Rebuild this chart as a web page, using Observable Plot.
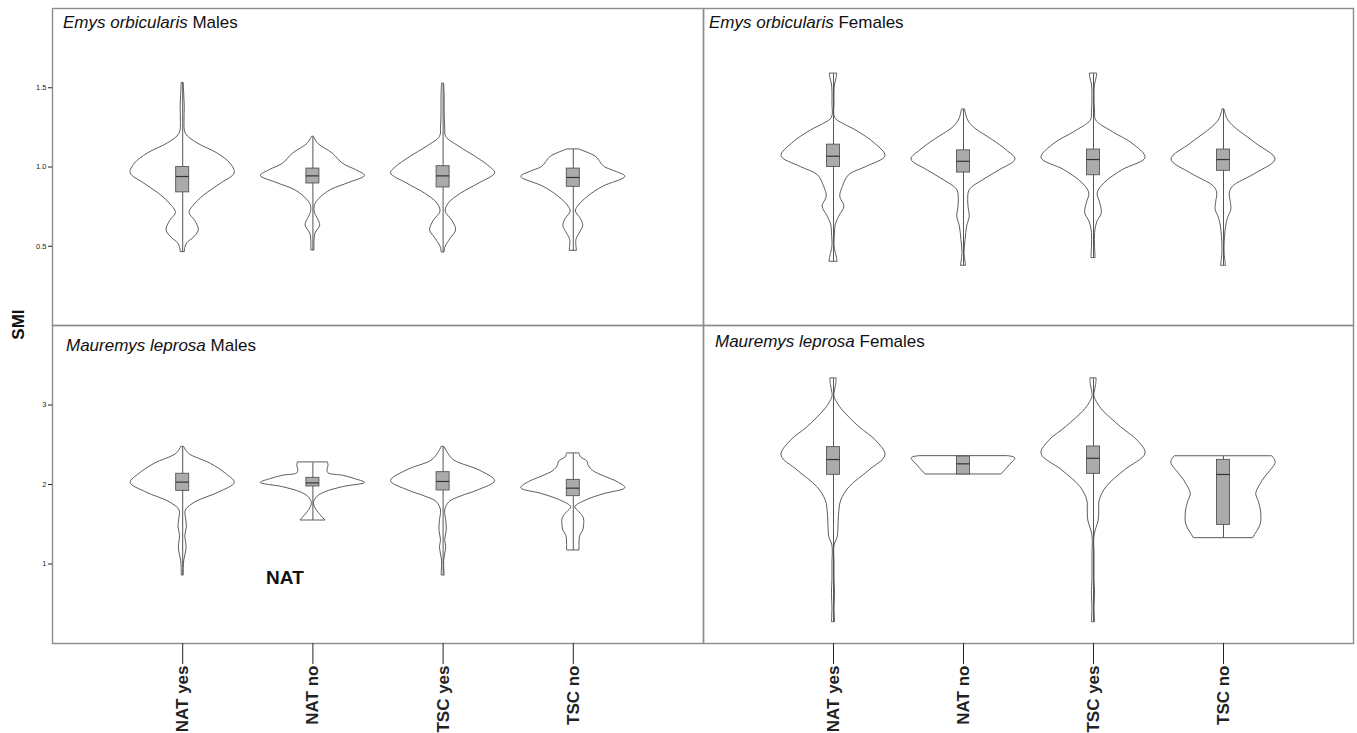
<!DOCTYPE html>
<html><head><meta charset="utf-8">
<script src="https://cdn.jsdelivr.net/npm/d3@7"></script>
<script src="https://cdn.jsdelivr.net/npm/@observablehq/plot@0.6"></script>
<style>
body{margin:0;background:#fff;}
#chart{position:relative;width:1357px;height:733px;font-family:"Liberation Sans",Arial,sans-serif;overflow:hidden;}
.ttl{position:absolute;font-size:17px;line-height:17px;white-space:nowrap;color:#111;}
.smi{position:absolute;font-size:17px;font-weight:bold;line-height:17px;color:#111;transform:rotate(-90deg);transform-origin:center center;}
</style></head><body><div id="chart"></div>
<script>
// ---- data ----
const groups = ["NAT yes", "NAT no", "TSC yes", "TSC no"];
const titles = [["Emys orbicularis", "Males"], ["Emys orbicularis", "Females"], ["Mauremys leprosa", "Males"], ["Mauremys leprosa", "Females"]];
const yTicksEmys = [0.5, 1.0, 1.5];
const yTicksMauremys = [1, 2, 3];
const yDomainEmys = [0, 2];
const yDomainMauremys = [0, 4];
const yLabel = "SMI";
const annotation = {label: "NAT", group: 1.785, smi: 0.83};

// violin outlines: [SMI value, relative density width (max = 1)]
const emysMalesViolins = [
  [[1.528,0.02],[1.45,0.03],[1.38,0.04],[1.3,0.035],[1.21,0.06],[1.15,0.28],[1.085,0.67],[1.02,0.92],[0.96,1.0],[0.9,0.76],[0.835,0.47],[0.77,0.25],[0.71,0.13],[0.66,0.24],[0.6,0.31],[0.55,0.2],[0.52,0.09],[0.49,0.05],[0.463,0.04]],
  [[1.189,0.02],[1.147,0.1],[1.085,0.38],[1.02,0.58],[0.98,0.83],[0.944,1.0],[0.9,0.7],[0.855,0.35],[0.81,0.16],[0.76,0.04],[0.71,0.04],[0.67,0.1],[0.63,0.14],[0.58,0.05],[0.53,0.03],[0.473,0.03]],
  [[1.524,0.02],[1.45,0.03],[1.35,0.03],[1.25,0.04],[1.19,0.06],[1.13,0.3],[1.063,0.63],[1.0,0.9],[0.96,1.0],[0.897,0.7],[0.833,0.35],[0.77,0.11],[0.718,0.05],[0.66,0.18],[0.6,0.25],[0.55,0.15],[0.52,0.09],[0.49,0.04],[0.461,0.03]],
  [[1.11,0.12],[1.063,0.44],[1.03,0.52],[1.0,0.6],[0.975,0.78],[0.938,1.0],[0.875,0.57],[0.812,0.28],[0.75,0.09],[0.718,0.05],[0.67,0.15],[0.628,0.19],[0.58,0.12],[0.54,0.06],[0.471,0.07]]
];
const emysMalesBoxes = [[0.84,0.94,1.0],[0.896,0.944,0.99],[0.871,0.944,1.005],[0.875,0.934,0.99]];

const emysFemalesViolins = [
  [[1.587,0.07],[1.56,0.06],[1.52,0.03],[1.48,0.02],[1.4,0.02],[1.31,0.03],[1.27,0.2],[1.231,0.43],[1.147,0.8],[1.068,1.0],[1.0,0.63],[0.948,0.3],[0.875,0.18],[0.812,0.13],[0.75,0.21],[0.687,0.11],[0.63,0.04],[0.583,0.03],[0.5,0.02],[0.436,0.06],[0.402,0.08]],
  [[1.361,0.03],[1.3,0.08],[1.252,0.19],[1.168,0.57],[1.105,0.83],[1.047,1.0],[0.98,0.7],[0.917,0.38],[0.854,0.12],[0.79,0.09],[0.74,0.1],[0.687,0.12],[0.624,0.07],[0.54,0.04],[0.457,0.02],[0.377,0.05]],
  [[1.587,0.07],[1.56,0.06],[1.52,0.03],[1.45,0.02],[1.35,0.03],[1.294,0.05],[1.22,0.37],[1.147,0.75],[1.057,1.0],[0.98,0.56],[0.897,0.21],[0.833,0.08],[0.77,0.13],[0.708,0.16],[0.65,0.07],[0.583,0.03],[0.5,0.03],[0.425,0.04]],
  [[1.361,0.02],[1.3,0.08],[1.252,0.21],[1.147,0.63],[1.047,1.0],[0.96,0.63],[0.875,0.18],[0.833,0.12],[0.78,0.14],[0.729,0.15],[0.68,0.09],[0.624,0.05],[0.5,0.02],[0.42,0.03],[0.377,0.05]]
];
const emysFemalesBoxes = [[1.0,1.068,1.141],[0.965,1.036,1.105],[0.948,1.047,1.11],[0.976,1.047,1.11]];

const mauremysMalesViolins = [
  [[2.469,0.03],[2.386,0.12],[2.26,0.54],[2.135,0.83],[2.02,1.0],[1.9,0.7],[1.777,0.25],[1.673,0.06],[1.55,0.07],[1.463,0.08],[1.35,0.05],[1.25,0.07],[1.17,0.07],[1.044,0.03],[0.95,0.02],[0.855,0.02]],
  [[2.273,0.29],[2.23,0.3],[2.18,0.28],[2.14,0.3],[2.11,0.58],[2.07,0.8],[2.02,1.0],[1.967,0.58],[1.9,0.23],[1.84,0.08],[1.77,0.02],[1.7,0.05],[1.62,0.14],[1.547,0.24]],
  [[2.469,0.03],[2.386,0.1],[2.3,0.22],[2.176,0.7],[2.042,1.0],[1.925,0.67],[1.85,0.35],[1.777,0.12],[1.673,0.04],[1.55,0.06],[1.42,0.07],[1.3,0.04],[1.21,0.06],[1.12,0.04],[1.04,0.02],[0.855,0.03]],
  [[2.386,0.12],[2.34,0.15],[2.29,0.27],[2.23,0.3],[2.17,0.38],[2.1,0.6],[2.03,0.85],[1.954,1.0],[1.88,0.6],[1.8,0.25],[1.714,0.04],[1.65,0.12],[1.58,0.2],[1.5,0.21],[1.42,0.19],[1.35,0.13],[1.27,0.12],[1.17,0.12]]
];
const mauremysMalesBoxes = [[1.92,2.03,2.135],[1.975,2.02,2.084],[1.925,2.038,2.155],[1.853,1.954,2.058]];

const mauremysFemalesViolins = [
  [[3.33,0.06],[3.25,0.05],[3.15,0.02],[3.1,0.02],[3.02,0.08],[2.93,0.18],[2.72,0.5],[2.55,0.82],[2.365,1.0],[2.176,0.69],[1.966,0.31],[1.8,0.15],[1.65,0.11],[1.547,0.1],[1.337,0.08],[1.23,0.02],[1.0,0.02],[0.8,0.02],[0.625,0.03],[0.45,0.02],[0.268,0.03]],
  [[2.356,0.86],[2.342,0.97],[2.325,1.0],[2.305,0.98],[2.25,0.9],[2.19,0.82],[2.126,0.73]],
  [[3.33,0.06],[3.25,0.05],[3.15,0.02],[3.1,0.02],[3.02,0.08],[2.93,0.18],[2.72,0.53],[2.55,0.85],[2.386,1.0],[2.176,0.6],[1.966,0.25],[1.8,0.12],[1.65,0.11],[1.547,0.1],[1.358,0.02],[1.1,0.02],[0.8,0.02],[0.63,0.03],[0.45,0.02],[0.268,0.03]],
  [[2.352,0.94],[2.31,0.99],[2.26,1.0],[2.17,0.9],[2.09,0.8],[1.99,0.7],[1.88,0.63],[1.78,0.68],[1.673,0.72],[1.505,0.72],[1.42,0.66],[1.38,0.62],[1.325,0.57]]
];
const mauremysFemalesBoxes = [[2.122,2.314,2.47],[2.126,2.26,2.352],[2.134,2.33,2.478],[1.492,2.126,2.31]];

// ---- drawing ----
const HALF = 0.4;   // max violin half-width in x units
const BOXW = 0.05;  // box half-width in x units
const FONT = "'Liberation Sans', Arial, sans-serif";
const chart = document.getElementById("chart");

function panel(o) {
  const vData = o.violins.flatMap((pts, i) => pts.map(([v, w]) => ({g: i + 1, v, w})));
  const bData = o.boxes.map(([q1, med, q3], i) => ({
    g: i + 1, q1, med, q3,
    lo: d3.min(o.violins[i], p => p[0]), hi: d3.max(o.violins[i], p => p[0])
  }));
  const marks = [
    Plot.frame({stroke: "#8c8c8c", strokeWidth: 1.4}),
    Plot.areaX(vData, {y: "v", x1: d => d.g - d.w * HALF, x2: d => d.g + d.w * HALF, z: "g",
      curve: "catmull-rom", fill: "white", stroke: "#4a4a4a", strokeWidth: 0.9}),
    Plot.ruleX(bData, {x: "g", y1: "lo", y2: "hi", stroke: "#555", strokeWidth: 1}),
    Plot.rect(bData, {x1: d => d.g - BOXW, x2: d => d.g + BOXW, y1: "q1", y2: "q3",
      fill: "#ababab", stroke: "#555", strokeWidth: 0.9}),
    Plot.ruleY(bData, {y: "med", x1: d => d.g - BOXW, x2: d => d.g + BOXW, stroke: "#333", strokeWidth: 1.2})
  ];
  if (o.yTicks) marks.push(Plot.axisY({ticks: o.yTicks, tickFormat: o.yFormat, tickSize: 4, tickPadding: 2,
    fontSize: 7.5, label: null}));
  if (o.showX) marks.push(Plot.axisX({ticks: [1, 2, 3, 4], tickFormat: i => groups[i - 1], tickRotate: -90,
    tickSize: 21, tickPadding: 1, fontSize: 17, fontWeight: "bold", textAnchor: "end", label: null}));
  if (o.extra) marks.push(...o.extra);
  const svg = Plot.plot({
    width: o.width, height: o.height,
    marginLeft: o.ml, marginTop: o.mt, marginRight: 0, marginBottom: o.mb,
    x: {domain: [0, 5], axis: null},
    y: {domain: o.yDomain, axis: null},
    style: {fontFamily: FONT, overflow: "visible", color: "#222", background: "transparent"},
    marks
  });
  svg.style.position = "absolute";
  svg.style.left = o.left + "px";
  svg.style.top = o.top + "px";
  chart.appendChild(svg);
}

panel({violins: emysMalesViolins, boxes: emysMalesBoxes, yDomain: yDomainEmys, yTicks: yTicksEmys,
  yFormat: d3.format(".1f"), left: 0, top: 0, width: 703, height: 325, ml: 52, mt: 8, mb: 0});
panel({violins: emysFemalesViolins, boxes: emysFemalesBoxes, yDomain: yDomainEmys,
  left: 703, top: 0, width: 650, height: 325, ml: 0, mt: 8, mb: 0});
panel({violins: mauremysMalesViolins, boxes: mauremysMalesBoxes, yDomain: yDomainMauremys, yTicks: yTicksMauremys,
  yFormat: d3.format("d"), showX: true, left: 0, top: 325, width: 703, height: 408, ml: 52, mt: 0, mb: 90,
  extra: [Plot.text([annotation], {x: "group", y: "smi", text: "label", fontSize: 19, fontWeight: "bold", fill: "#111"})]});
panel({violins: mauremysFemalesViolins, boxes: mauremysFemalesBoxes, yDomain: yDomainMauremys,
  showX: true, left: 703, top: 325, width: 650, height: 408, ml: 0, mt: 0, mb: 90});

// panel titles
const titlePos = [[63, 13.6], [709, 13.6], [66, 337], [715, 332.6]];
titles.forEach(([sp, sex], i) => {
  const d = document.createElement("div");
  d.className = "ttl";
  d.style.left = titlePos[i][0] + "px";
  d.style.top = titlePos[i][1] + "px";
  d.innerHTML = `<i>${sp}</i> ${sex}`;
  chart.appendChild(d);
});
const s = document.createElement("div");
s.className = "smi";
s.textContent = yLabel;
s.style.left = "1px"; s.style.top = "316px"; s.style.width = "34px"; s.style.textAlign = "center";
chart.appendChild(s);
</script></body></html>
